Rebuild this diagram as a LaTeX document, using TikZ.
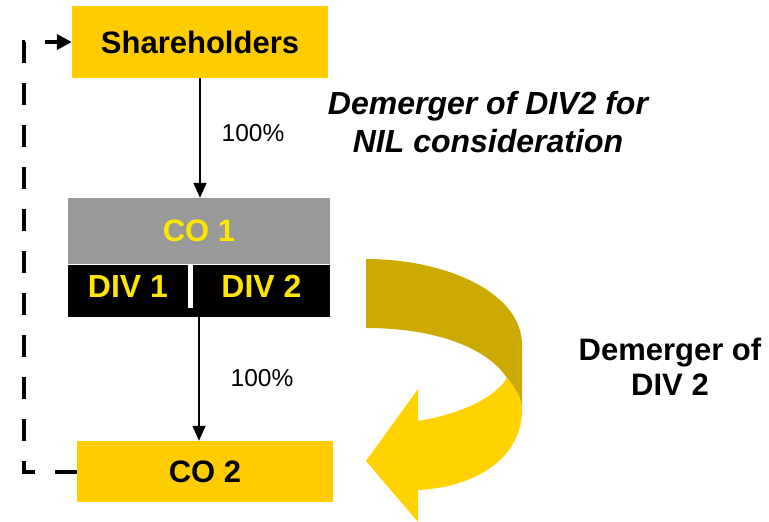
\documentclass[tikz,border=0pt]{standalone}
\usepackage{fontspec}
\setmainfont{Liberation Sans}
\usetikzlibrary{arrows.meta}
\definecolor{eyyellow}{RGB}{255,204,0}
\definecolor{cogrey}{RGB}{153,153,153}
\definecolor{txtyellow}{RGB}{255,230,0}
\definecolor{darkgold}{RGB}{205,170,0}
\definecolor{lightgold}{RGB}{255,210,0}
\tikzset{
  ybox/.style={fill=eyyellow, inner sep=0pt, font=\fontsize{31}{36}\selectfont\bfseries, text=black},
  gbox/.style={fill=cogrey, inner sep=0pt, font=\fontsize{31}{36}\selectfont\bfseries, text=txtyellow},
  bbox/.style={fill=black, inner sep=0pt, font=\fontsize{32}{36}\selectfont\bfseries, text=txtyellow},
  conn/.style={line width=1.6pt, -{Triangle[length=15pt,width=13pt]}},
  pct/.style={font=\fontsize{24.5}{28}\selectfont},
  dashline/.style={line width=4pt, dash pattern=on 22pt off 20pt, -{Triangle[length=15pt,width=15pt]}},
  bigtxt/.style={font=\fontsize{31}{36}\selectfont\bfseries, align=center}
}
\begin{document}
\begin{tikzpicture}[x=1pt,y=-1pt]
\useasboundingbox (0,0) rectangle (769,522);
% boxes
\node[ybox, minimum width=256pt, minimum height=72pt] (sh) at (200,42) {Shareholders};
\node[gbox, minimum width=262pt, minimum height=66pt] (co1) at (199,231) {CO 1};
\node[fill=black, inner sep=0pt, minimum width=262pt, minimum height=52pt] (band) at (199,291) {};
\node[bbox, minimum width=120pt, minimum height=43pt] (div1) at (128,286.5) {DIV 1};
\node[bbox, minimum width=137pt, minimum height=43pt] (div2) at (261.5,286.5) {DIV 2};
\fill[white] (div1.north east) rectangle (div2.south west);
\node[ybox, minimum width=256pt, minimum height=61pt] (co2) at (205,471.5) {CO 2};
% connectors
\draw[conn] (sh.south) -- (sh.south |- co1.north);
\draw[conn] (band.south) -- (band.south |- co2.north);
\node[pct] (p1) at (253,133) {100\%};
\node[pct] (p2) at (262,378) {100\%};
\draw[dashline] (co2.west) -- ++(-53,0) coordinate (c1) |- (sh.west);
% texts
\node[bigtxt, font=\fontsize{32}{38}\selectfont\bfseries\itshape] (t1) at (488,122) {Demerger of DIV2 for\\NIL consideration};
\node[bigtxt, font=\fontsize{31}{35}\selectfont\bfseries] (t2) at (670,367) {Demerger of\\DIV 2};
% curved arrow
\fill[darkgold] (366,259) .. controls (445,259) and (522,292) .. (522,345) -- (522,410)
  .. controls (522,398) and (515,388) .. (507,378)
  .. controls (485,345) and (430,328) .. (366,328) -- cycle;
\fill[lightgold] (418,421) .. controls (460,414) and (495,398) .. (507,378)
  .. controls (515,388) and (522,398) .. (522,410)
  .. controls (522,455) and (480,487) .. (418,490) -- (418,522) -- (366,461) -- (418,389) -- cycle;
\end{tikzpicture}
\end{document}
